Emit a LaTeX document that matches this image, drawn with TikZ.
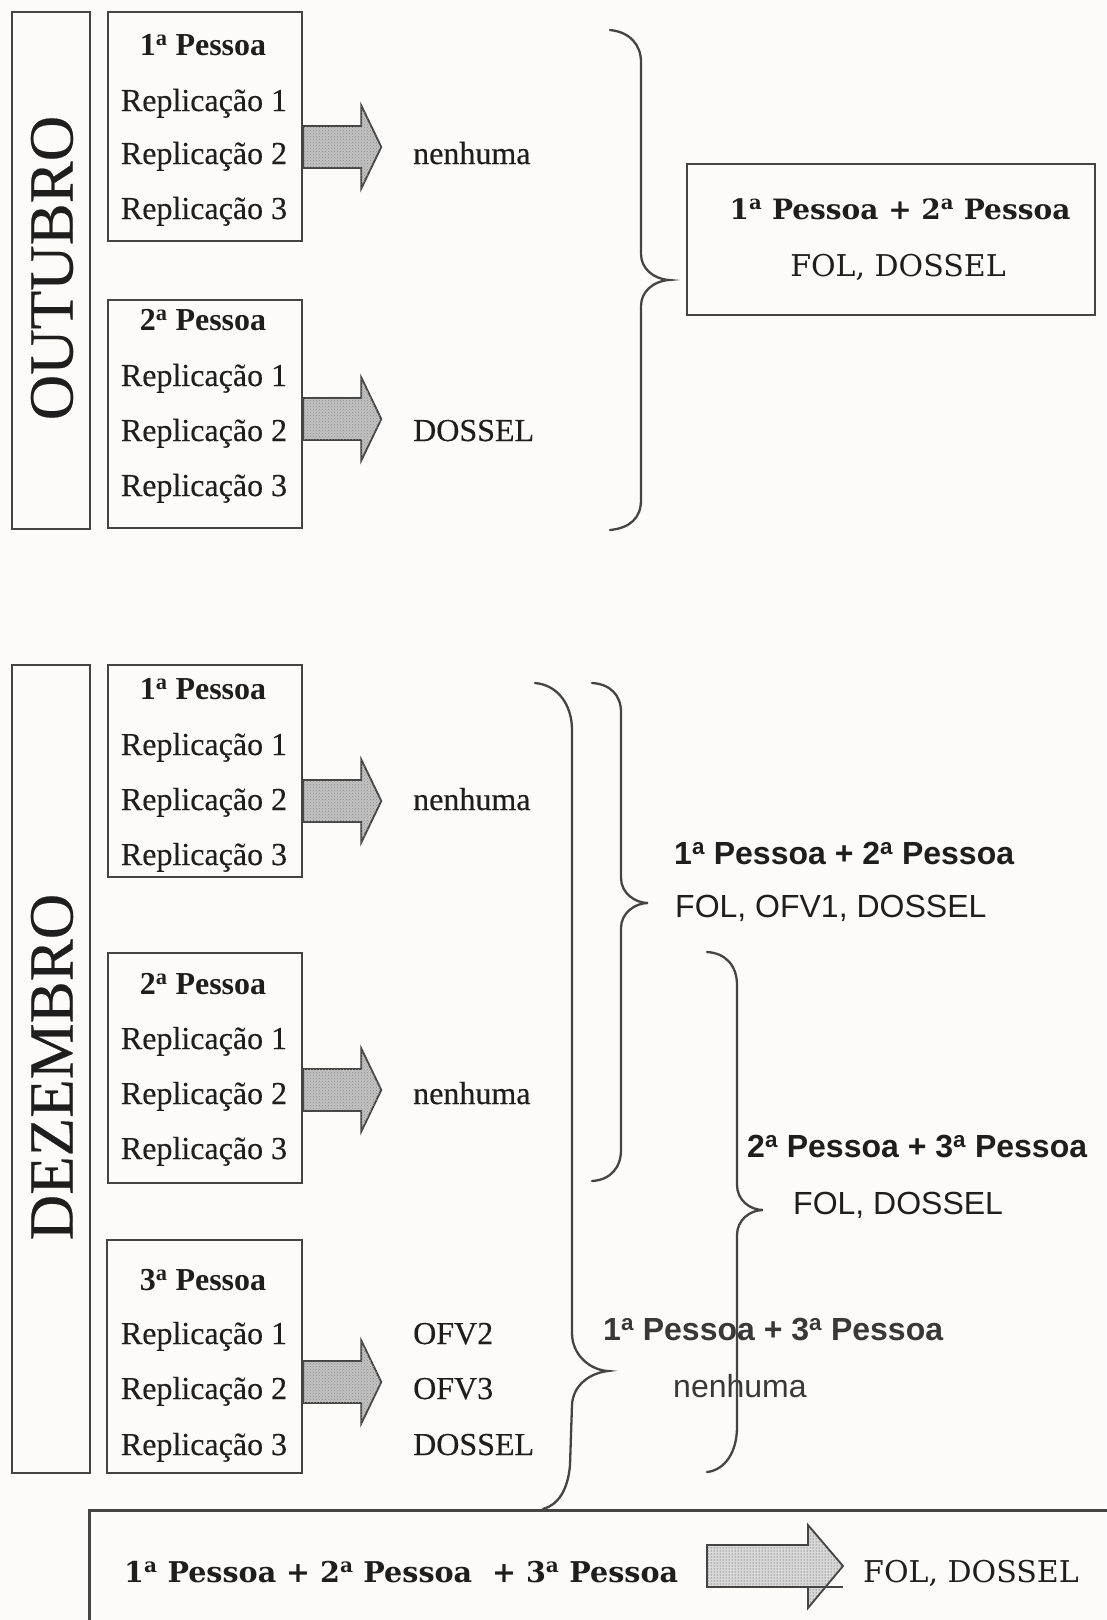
\documentclass[tikz,border=0pt]{standalone}
\usepackage{fontspec}
\setmainfont{Liberation Serif}
\newfontfamily\tnrheavy{Liberation Serif}[BoldFont={Liberation Serif}, BoldFeatures={FakeBold=0.35}]
\newfontfamily\arialf{Liberation Sans}
\newfontfamily\bookf{DejaVu Serif}
\usetikzlibrary{patterns}
\definecolor{ink}{HTML}{1E1E1E}
\definecolor{inkl}{HTML}{383838}
\definecolor{strk}{HTML}{444444}
\definecolor{bgc}{HTML}{FCFBFA}
\definecolor{arrfill}{HTML}{C2C2C2}
\newcommand\ordA[1]{#1\textsuperscript{a}}
\begin{document}
\begin{tikzpicture}[x=1pt,y=-1pt,
  box/.style={draw=strk, line width=2.6pt, inner sep=0pt},
  tnr/.style={font=\tnrheavy\fontsize{32}{36}\selectfont\bfseries, text=ink, inner sep=0pt},
  tnrb/.style={font=\fontsize{32}{36}\selectfont\bfseries, text=ink, inner sep=0pt},
  month/.style={font=\tnrheavy\fontsize{63}{70}\selectfont\bfseries, text=ink, inner sep=0pt, rotate=90},
  sansb/.style={font=\arialf\fontsize{32}{36}\selectfont\bfseries, text=ink, inner sep=0pt},
  sansr/.style={font=\arialf\fontsize{32}{36}\selectfont, text=ink, inner sep=0pt},
  bookb/.style={font=\bookf\fontsize{28}{32}\selectfont\bfseries, text=ink, inner sep=0pt},
  bookr/.style={font=\bookf\fontsize{30}{34}\selectfont, text=ink, inner sep=0pt},
  bracestyle/.style={draw=strk, line width=2.3pt, line cap=round},
  arrowshape/.style={draw=strk, line width=1.8pt, line join=miter, fill=arrfill,
     postaction={pattern=crosshatch dots, pattern color=black!45}},
  blockarrow/.pic={\path[arrowshape] (0,-21) -- (58,-21) -- (58,-41.5) -- (78,0) -- (58,41.5) -- (58,21) -- (0,21) -- cycle;}
]
\useasboundingbox (0,0) rectangle (1106,1620);
\fill[bgc] (0,0) rectangle (1106,1620);

% ================= OUTUBRO =================
\node[box, minimum width=78, minimum height=517] (outbox) at (51,270.5) {};
\node[month] (outlbl) at (52,268) {OUTUBRO};

\node[box, minimum width=194, minimum height=229] (op1) at (205,126.5) {};
\node[tnrb, anchor=base] (op1t) at (203,55) {\ordA{1} Pessoa};
\node[tnr, anchor=base] (op1r1) at (204,111) {Replicação 1};
\node[tnr, anchor=base] (op1r2) at (204,164) {Replicação 2};
\node[tnr, anchor=base] (op1r3) at (204,219) {Replicação 3};

\node[box, minimum width=194, minimum height=228] (op2) at (205,414) {};
\node[tnrb, anchor=base] (op2t) at (203,330) {\ordA{2} Pessoa};
\node[tnr, anchor=base] (op2r1) at (204,386) {Replicação 1};
\node[tnr, anchor=base] (op2r2) at (204,441) {Replicação 2};
\node[tnr, anchor=base] (op2r3) at (204,496) {Replicação 3};

\coordinate (oa1) at (op1.east |- 0,147);
\coordinate (oa2) at (op2.east |- 0,419);
\pic at (oa1) {blockarrow};
\pic at (oa2) {blockarrow};

\node[tnr, anchor=base west] (ov1) at (413,164) {nenhuma};
\node[tnr, anchor=base west] (ov2) at (413,441) {DOSSEL};

\draw[bracestyle] (610,30) .. controls (630,32) and (641,45) .. (641,62) -- (641,254)
  .. controls (641,268) and (653,279) .. (669,280)
  .. controls (653,281) and (641,292) .. (641,306) -- (641,500)
  .. controls (641,518) and (630,528) .. (610,530);

\node[box, minimum width=408, minimum height=151] (ores) at (891,239.5) {};
\node[bookb, anchor=base] (orest) at (900,219) {\ordA{1} Pessoa + \ordA{2} Pessoa};
\node[bookr, anchor=base] (oresv) at (898,276) {FOL, DOSSEL};

% ================= DEZEMBRO =================
\node[box, minimum width=78, minimum height=808] (dezbox) at (51,1069) {};
\node[month] (dezlbl) at (52,1067) {DEZEMBRO};

\node[box, minimum width=194, minimum height=212] (dp1) at (205,771) {};
\node[tnrb, anchor=base] (dp1t) at (203,699) {\ordA{1} Pessoa};
\node[tnr, anchor=base] (dp1r1) at (204,755) {Replicação 1};
\node[tnr, anchor=base] (dp1r2) at (204,810) {Replicação 2};
\node[tnr, anchor=base] (dp1r3) at (204,865) {Replicação 3};

\node[box, minimum width=194, minimum height=230] (dp2) at (205,1068) {};
\node[tnrb, anchor=base] (dp2t) at (203,994) {\ordA{2} Pessoa};
\node[tnr, anchor=base] (dp2r1) at (204,1049) {Replicação 1};
\node[tnr, anchor=base] (dp2r2) at (204,1104) {Replicação 2};
\node[tnr, anchor=base] (dp2r3) at (204,1159) {Replicação 3};

\node[box, minimum width=195, minimum height=233] (dp3) at (204.5,1356.5) {};
\node[tnrb, anchor=base] (dp3t) at (203,1290) {\ordA{3} Pessoa};
\node[tnr, anchor=base] (dp3r1) at (204,1344) {Replicação 1};
\node[tnr, anchor=base] (dp3r2) at (204,1399) {Replicação 2};
\node[tnr, anchor=base] (dp3r3) at (204,1455) {Replicação 3};

\coordinate (da1) at (dp1.east |- 0,801);
\coordinate (da2) at (dp2.east |- 0,1090);
\coordinate (da3) at (dp3.east |- 0,1382);
\pic at (da1) {blockarrow};
\pic at (da2) {blockarrow};
\pic at (da3) {blockarrow};

\node[tnr, anchor=base west] (dv1) at (413,810) {nenhuma};
\node[tnr, anchor=base west] (dv2) at (413,1104) {nenhuma};
\node[tnr, anchor=base west] (dv3a) at (413,1344) {OFV2};
\node[tnr, anchor=base west] (dv3b) at (413,1399) {OFV3};
\node[tnr, anchor=base west] (dv3c) at (413,1455) {DOSSEL};

% right-side texts
\node[sansb, anchor=base west] (r12t) at (674,864) {\ordA{1} Pessoa + \ordA{2} Pessoa};
\node[sansr, anchor=base west] (r12v) at (675,917) {FOL, OFV1, DOSSEL};
\node[sansb, anchor=base west] (r23t) at (747,1157) {\ordA{2} Pessoa + \ordA{3} Pessoa};
\node[sansr, anchor=base west] (r23v) at (793,1214) {FOL, DOSSEL};
\node[sansb, anchor=base west, text=inkl] (r13t) at (603,1340) {\ordA{1} Pessoa + \ordA{3} Pessoa};
\node[sansr, anchor=base west, text=inkl] (r13v) at (673,1397) {nenhuma};

% braces
\draw[bracestyle] (535,683) .. controls (558,685) and (572,705) .. (572,730) -- (572,1333)
  .. controls (572,1355) and (590,1370) .. (608,1371)
  .. controls (590,1373) and (573,1385) .. (572,1405) -- (570,1465)
  .. controls (568,1490) and (558,1505) .. (543,1509);
\draw[bracestyle] (592,683) .. controls (610,684) and (621,695) .. (621,712) -- (621,878)
  .. controls (621,893) and (635,903) .. (648,903)
  .. controls (635,903) and (621,913) .. (621,928) -- (621,1150)
  .. controls (621,1168) and (610,1180) .. (592,1181);
\draw[bracestyle] (707,952) .. controls (725,953) and (737,965) .. (737,985) -- (737,1185)
  .. controls (737,1200) and (750,1210) .. (763,1210)
  .. controls (750,1210) and (737,1220) .. (737,1235) -- (737,1427)
  .. controls (737,1452) and (725,1470) .. (707,1472);

% ================= bottom =================
\node[box, anchor=north west, minimum width=1050, minimum height=140] (allbox) at (88,1509) {};
\node[bookb, anchor=base west, font=\bookf\fontsize{28.6}{32}\selectfont\bfseries] (allt) at (124,1582) {\ordA{1} Pessoa + \ordA{2} Pessoa\ \ + \ordA{3} Pessoa};
\node[bookr, anchor=base west] (allv) at (863,1582) {FOL, DOSSEL};
\path[draw=strk, line width=1.8pt, fill=gray!30, postaction={pattern=dots, pattern color=black!80}]
  (707,1545) -- (808,1545) -- (808,1525) -- (843,1566) -- (808,1608) -- (808,1587) -- (707,1587) -- cycle;
\draw[strk, line width=1.8pt] (808,1587) -- (843,1587);
\end{tikzpicture}
\end{document}
